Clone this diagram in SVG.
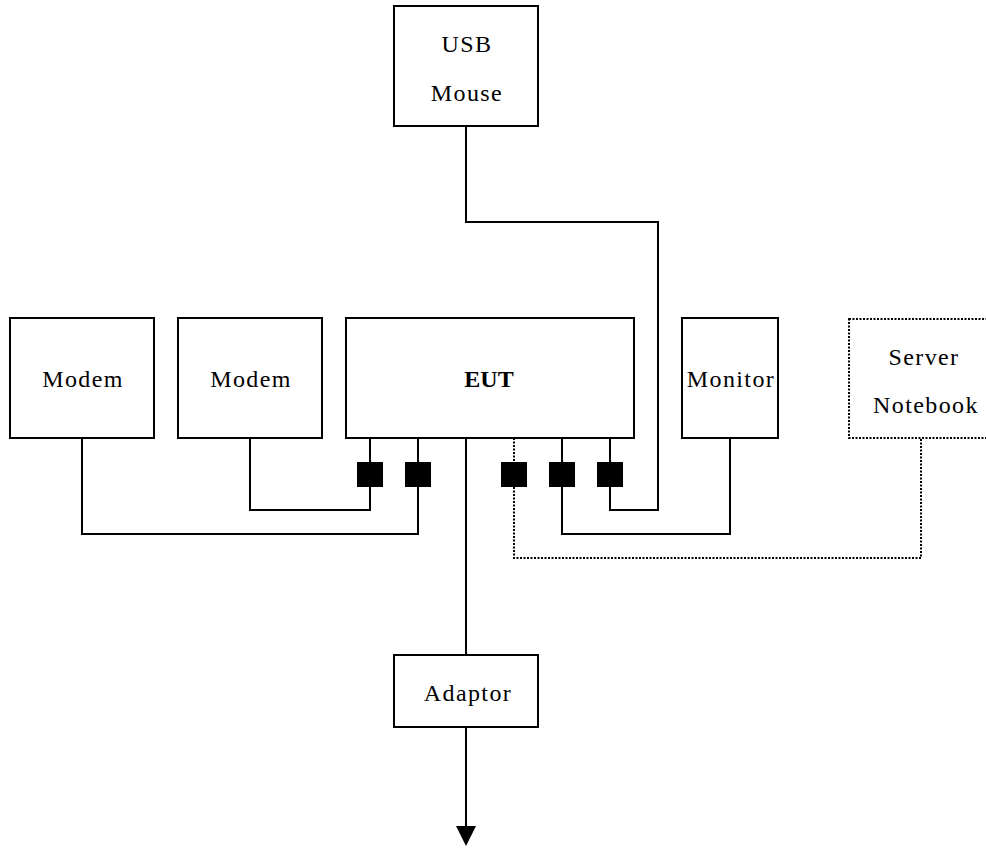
<svg xmlns="http://www.w3.org/2000/svg" width="986" height="848" viewBox="0 0 986 848">
<style>
.box{fill:#fff;stroke:#000;stroke-width:2}
.dbox{fill:#fff;stroke:#000;stroke-width:2;stroke-dasharray:2 1.5}
.port{fill:#000;stroke:none}
.t{font-family:"Liberation Serif","Times New Roman",serif;font-size:24px;letter-spacing:1.4px;text-anchor:middle;fill:#000}
.b{font-weight:bold;letter-spacing:0px}
.w{fill:none;stroke:#000;stroke-width:2}
.d{fill:none;stroke:#000;stroke-width:2;stroke-dasharray:2 1.5}
</style>
<rect width="986" height="848" fill="#fff"/>
<g id="connectors">
<polyline class="w" points="466,126 466,222 658,222 658,510 610,510 610,438"/>
<polyline class="w" points="250,438 250,510 370,510 370,438"/>
<polyline class="w" points="82,438 82,534 418,534 418,438"/>
<polyline class="w" points="562,438 562,534 730,534 730,438"/>
<polyline class="d" points="514,438 514,558 921,558 921,438"/>
<line class="w" x1="466" y1="438" x2="466" y2="655"/>
<line class="w" x1="466" y1="727" x2="466" y2="830"/>
<polygon points="456,826 476,826 466,846" fill="#000"/>
</g>
<g id="ports">
<rect class="port" x="357" y="462" width="26" height="25"/>
<rect class="port" x="405" y="462" width="26" height="25"/>
<rect class="port" x="501" y="462" width="26" height="25"/>
<rect class="port" x="549" y="462" width="26" height="25"/>
<rect class="port" x="597" y="462" width="26" height="25"/>
</g>
<g id="usb-mouse">
<rect class="box" x="394" y="6" width="144" height="120"/>
<text class="t" x="467" y="52">USB</text>
<text class="t" x="467" y="101">Mouse</text>
</g>
<g id="modem1">
<rect class="box" x="10" y="318" width="144" height="120"/>
<text class="t" x="83" y="387">Modem</text>
</g>
<g id="modem2">
<rect class="box" x="178" y="318" width="144" height="120"/>
<text class="t" x="251" y="387">Modem</text>
</g>
<g id="eut">
<rect class="box" x="346" y="318" width="288" height="120"/>
<text class="t b" x="489" y="387">EUT</text>
</g>
<g id="monitor">
<rect class="box" x="682" y="318" width="96" height="120"/>
<text class="t" x="731" y="387">Monitor</text>
</g>
<g id="server-notebook">
<rect class="dbox" x="849" y="319" width="146" height="119"/>
<text class="t" x="924" y="365">Server</text>
<text class="t" x="926" y="413">Notebook</text>
</g>
<g id="adaptor">
<rect class="box" x="394" y="655" width="144" height="72"/>
<text class="t" x="468" y="701">Adaptor</text>
</g>
</svg>
